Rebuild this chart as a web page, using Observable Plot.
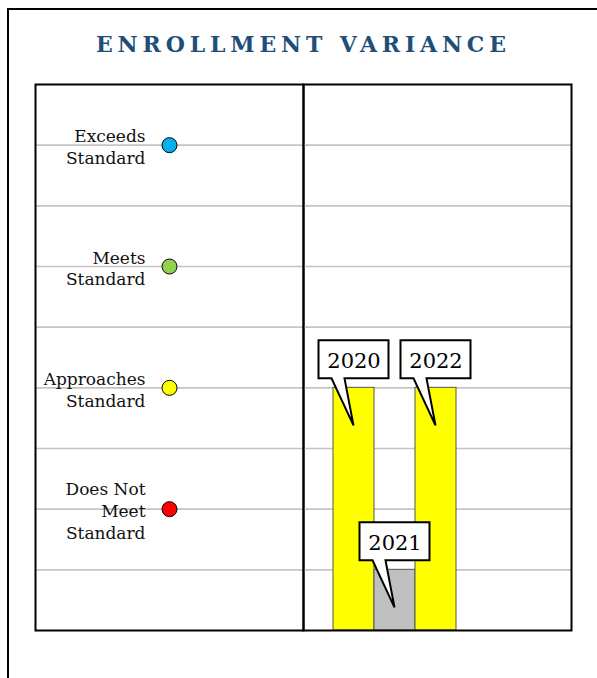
<!DOCTYPE html>
<html>
<head>
<meta charset="utf-8">
<script src="https://cdn.jsdelivr.net/npm/d3@7"></script>
<script src="https://cdn.jsdelivr.net/npm/@observablehq/plot@0.6"></script>
<style>
  html, body { margin: 0; padding: 0; background: #fff; overflow: hidden; width: 597px; height: 678px; }
  #outer { position: absolute; left: 7px; top: 8px; width: 800px; height: 900px; border: 2px solid #000; }
  #title { position: absolute; top: 31px; left: 0; white-space: nowrap;
           font-family: "DejaVu Serif", serif; font-weight: bold; font-size: 22px; color: #1f4e79; line-height: 26px; }
  #left { position: absolute; left: 34px; top: 83px; }
  #right { position: absolute; left: 302px; top: 83px; }
  svg { overflow: visible; }
</style>
</head>
<body>
<div id="outer"></div>
<div id="title">ENROLLMENT VARIANCE</div>
<div id="left"></div>
<div id="right"></div>
<script>
// ---- data ----
const levelLabels = ["Exceeds\nStandard", "Meets\nStandard", "Approaches\nStandard", "Does Not\nMeet\nStandard"];
const levelValues = [8, 6, 4, 2];
const levelColors = ["#00b0f0", "#92d050", "#ffff00", "#ff0000"];
const years = ["2020", "2021", "2022"];
const yearValues = [4, 1, 4];
const yearColors = ["#ffff00", "#c0c0c0", "#ffff00"];
const gridTicks = [1, 2, 3, 4, 5, 6, 7, 8];
const yDomain = [0, 9];

const levelData = levelLabels.map((label, i) => ({label, value: levelValues[i], color: levelColors[i]}));
const yearData = years.map((year, i) => ({year, value: yearValues[i], color: yearColors[i]}));

const font = "DejaVu Serif";
const gridStyle = {stroke: "#c4c4c4", strokeWidth: 1.6, strokeOpacity: 1};

// ---- left panel: performance levels ----
const left = Plot.plot({
  width: 270, height: 548, margin: 1,
  style: {background: "transparent", fontFamily: font},
  x: {axis: null, domain: [0, 1]},
  y: {axis: null, domain: yDomain},
  color: {type: "identity"},
  marks: [
    Plot.ruleY(gridTicks, gridStyle),
    Plot.text(levelData, {y: "value", text: "label", frameAnchor: "middle", textAnchor: "end",
      dx: -24, dy: 1, lineHeight: 1.28, fontSize: 17, fill: "#111"}),
    Plot.dot(levelData, {y: "value", fill: "color", stroke: "#000", strokeWidth: 1, r: 7.5}),
    Plot.frame({stroke: "#000", strokeWidth: 2})
  ]
});
document.getElementById("left").append(left);

// ---- right panel: yearly bars with callouts ----
const callouts = (index, scales) => {
  const x = scales.x, y = scales.y;
  const bw = x.bandwidth ? x.bandwidth() : 0;
  const g = d3.create("svg:g");
  yearData.forEach(d => {
    const cx = x(d.year) + bw / 2;
    const top = y(d.value);
    const tipY = top + 38, bb = top - 9, bt = bb - 38, bl = cx - 35, br = cx + 35;
    g.append("path")
      .attr("d", `M${bl},${bt}H${br}V${bb}H${cx - 9}L${cx},${tipY}L${cx - 22},${bb}H${bl}Z`)
      .attr("fill", "#fff").attr("stroke", "#000").attr("stroke-width", 2)
      .attr("stroke-linejoin", "miter");
  });
  return g.node();
};

const right = Plot.plot({
  width: 270, height: 548, margin: 1,
  style: {background: "transparent", fontFamily: font},
  x: {axis: null, domain: years, paddingInner: 0, paddingOuter: 1.729, align: 0.209},
  y: {axis: null, domain: yDomain},
  color: {type: "identity"},
  marks: [
    Plot.ruleY(gridTicks, gridStyle),
    Plot.barY(yearData, {x: "year", y: "value", fill: "color", stroke: "#555", strokeWidth: 1, inset: 0}),
    callouts,
    Plot.text(yearData, {x: "year", y: "value", text: "year", dy: -27, fontSize: 21, fill: "#000"}),
    Plot.frame({stroke: "#000", strokeWidth: 2})
  ]
});
document.getElementById("right").append(right);

// ---- title spacing: fit the letter-spaced title to its span ----
const title = document.getElementById("title");
const natural = title.getBoundingClientRect().width;
const n = title.textContent.length;
const ls = (410 - natural) / (n - 1);
title.style.letterSpacing = ls + "px";
title.style.left = (96) + "px";
</script>
</body>
</html>
